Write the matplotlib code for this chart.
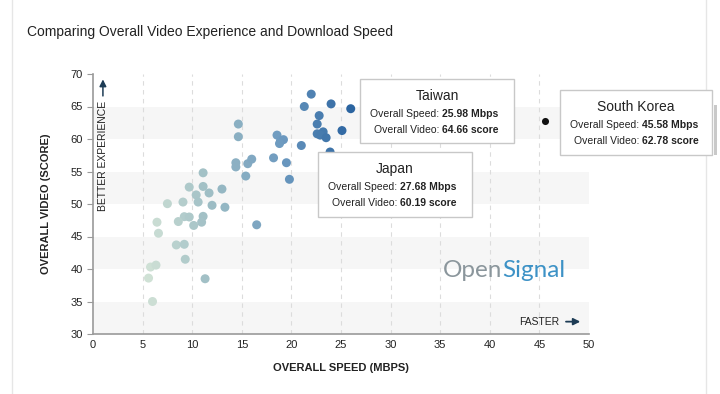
import numpy as np
import matplotlib
matplotlib.use("Agg")
import matplotlib.pyplot as plt
from matplotlib.colors import LinearSegmentedColormap, Normalize
from matplotlib.patches import Rectangle

plt.rcParams['font.family'] = ['Liberation Sans', 'DejaVu Sans']

# overall download speed (Mbps) and overall video score per country
speed = [14.65, 14.65, 14.4, 14.4, 15.6, 16.0, 15.4, 16.5, 11.1, 9.7,
         11.1, 10.4, 11.7, 13.0, 7.5, 9.07, 10.6, 12.0, 13.3, 9.2,
         9.7, 11.1, 8.6, 10.15, 10.95, 6.45, 6.6, 8.4, 9.2, 9.3,
         5.8, 6.35, 5.6, 11.3, 6.0, 22.0, 24.0, 25.98, 21.3, 22.8,
         22.6, 25.1, 22.6, 23.2, 22.9, 23.5, 21.0, 18.55, 18.9, 19.2,
         18.8, 18.2, 19.5, 19.8, 23.9, 27.68]
video = [62.3, 60.35, 56.35, 55.7, 56.2, 56.9, 54.3, 46.8, 54.8, 52.6,
         52.7, 51.4, 51.7, 52.3, 50.05, 50.3, 50.3, 49.8, 49.5, 48.05,
         48.0, 48.1, 47.3, 46.7, 47.2, 47.2, 45.5, 43.7, 43.8, 41.5,
         40.3, 40.6, 38.6, 38.5, 35.0, 66.9, 65.4, 64.66, 65.0, 63.6,
         62.3, 61.3, 60.8, 61.1, 60.6, 60.2, 59.0, 60.6, 59.7, 59.9,
         59.3, 57.1, 56.35, 53.8, 58.0, 60.19]

# highlighted market (outlier)
sk_speed = 45.58
sk_video = 62.78

# tooltips: name, speed text, video text
tip_names = ["Taiwan", "Japan", "South Korea"]
tip_speed = ["25.98 Mbps", "27.68 Mbps", "45.58 Mbps"]
tip_video = ["64.66 score", "60.19 score", "62.78 score"]

W, H = 720, 394
fig = plt.figure(figsize=(7.2, 3.94), dpi=100)
fig.patch.set_facecolor("white")


def fx(px):
    return px / W


def fy(py):
    return 1 - py / H


ax = fig.add_axes([fx(93), fy(334), fx(589) - fx(93), fy(74) - fy(334)])
ax.set_xlim(0, 50)
ax.set_ylim(30, 70)

# alternating bands
for y0 in [30, 40, 50, 60]:
    ax.axhspan(y0, y0 + 5, color="#f6f6f6", zorder=0, lw=0)
for x0 in range(5, 50, 5):
    ax.axvline(x0, color="#dcdcdc", lw=0.8, ls=(0, (4, 4)), zorder=1)

cmap = LinearSegmentedColormap.from_list("vid", ["#d4e4d7", "#9cbcc4", "#6d9ac0", "#2b64a0"])
norm = Normalize(5, 26)
ax.scatter(speed, video, c=speed, cmap=cmap, norm=norm, s=42, lw=0, zorder=3)
ax.scatter([sk_speed], [sk_video], color="#111111", s=26, lw=0, zorder=3)

for s in ["top", "right"]:
    ax.spines[s].set_visible(False)
for s in ["left", "bottom"]:
    ax.spines[s].set_color("#9a9a9a")
    ax.spines[s].set_linewidth(1.2)
ax.set_xticks(range(0, 51, 5))
ax.set_yticks(range(30, 71, 5))
ax.tick_params(axis="both", labelsize=8, colors="#9a9a9a", labelcolor="#222222", length=4, width=0.8)
ax.tick_params(axis="x", length=0, pad=4)

ax.set_xlabel("OVERALL SPEED (MBPS)", fontsize=8, fontweight="bold", color="#222222", labelpad=10)
ax.set_ylabel("OVERALL VIDEO (SCORE)", fontsize=8, fontweight="bold", color="#222222", labelpad=14)

# direction hints
ax.annotate("", xy=(1.0, 69.6), xytext=(1.0, 66.2),
            arrowprops=dict(arrowstyle="-|>", color="#1d3c55", lw=1.1, mutation_scale=10), zorder=4)
ax.text(1.0, 65.8, "BETTER EXPERIENCE", rotation=90, ha="center", va="top", fontsize=7.5, color="#222222", zorder=4)
ax.text(47.0, 31.9, "FASTER", ha="right", va="center", fontsize=7.5, color="#222222", zorder=4)
ax.annotate("", xy=(49.4, 31.9), xytext=(47.4, 31.9),
            arrowprops=dict(arrowstyle="-|>", color="#1d3c55", lw=1.3, mutation_scale=10), zorder=4)

# watermark
fig.text(fx(443), fy(277), "Open", fontsize=17.5, color="#8b969c", family=["Lato", "DejaVu Sans"],
         va="baseline", ha="left")
fig.text(fx(502), fy(277), "Signal", fontsize=17.5, color="#3d92c6", family=["Lato", "DejaVu Sans"],
         va="baseline", ha="left")

fig.text(fx(27), fy(32), "Comparing Overall Video Experience and Download Speed", fontsize=10, color="#222222", va="center")

# tooltip boxes (pixel layout: left, top, right, bottom, split x)
boxes = [(360, 79, 514, 143, 442), (318, 152, 472, 217, 400), (560, 90, 712, 155, 642)]
for (l, t, r, b, sx), name, sp, vd in zip(boxes, tip_names, tip_speed, tip_video):
    fig.patches.append(Rectangle((fx(l), fy(b)), fx(r) - fx(l), fy(t) - fy(b), transform=fig.transFigure,
                                 facecolor="white", edgecolor="#c8c8c8", lw=1.0, zorder=10))
    cx = (l + r) / 2
    fig.text(fx(cx), fy(t + 17), name, fontsize=10, ha="center", va="center", color="#222222", zorder=11)
    fig.text(fx(sx), fy(t + 35), "Overall Speed: ", fontsize=7.5, ha="right", va="center", color="#222222", zorder=11)
    fig.text(fx(sx), fy(t + 35), sp, fontsize=7.5, ha="left", va="center", fontweight="bold", color="#222222", zorder=11)
    fig.text(fx(sx), fy(t + 51), "Overall Video: ", fontsize=7.5, ha="right", va="center", color="#222222", zorder=11)
    fig.text(fx(sx), fy(t + 51), vd, fontsize=7.5, ha="left", va="center", fontweight="bold", color="#222222", zorder=11)

# page frame
fig.add_artist(plt.Line2D([fx(12), fx(12)], [0, 1], color="#e6e6e6", lw=1, transform=fig.transFigure))
fig.add_artist(plt.Line2D([fx(706), fx(706)], [0, 1], color="#e6e6e6", lw=1, transform=fig.transFigure))
fig.patches.append(Rectangle((fx(714), fy(155)), fx(3), fy(105) - fy(155), transform=fig.transFigure,
                             facecolor="#c9c9c9", edgecolor="none", zorder=12))

fig.savefig("out.png", dpi=100)
